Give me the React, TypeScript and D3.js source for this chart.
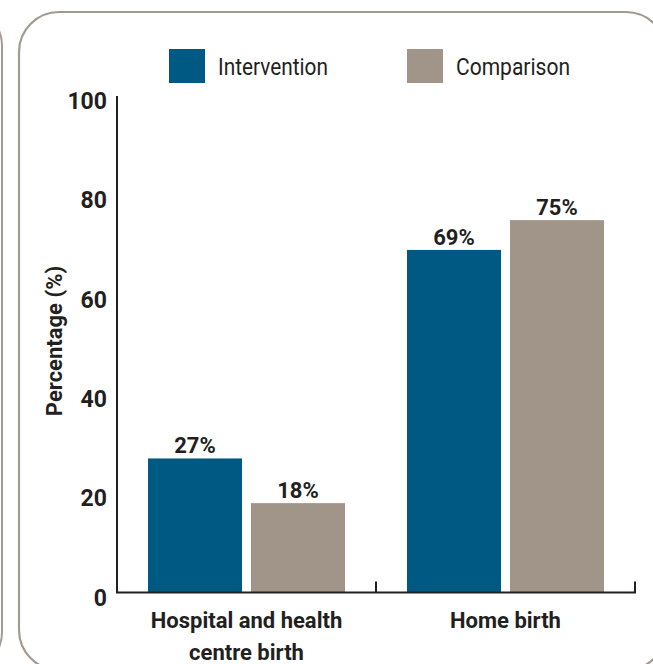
import React from "react";
import * as d3 from "d3";

const categories = ["Hospital and health centre birth", "Home birth"];
const categoryLines = [["Hospital and health", "centre birth"], ["Home birth"]];
const seriesNames = ["Intervention", "Comparison"];
const seriesColors = ["#005983", "#a19589"];
const intervention = [27, 69];
const comparison = [18, 75];
const yTicks = [0, 20, 40, 60, 80, 100];

const W = 653;
const H = 664;
const FONT = "'Liberation Sans Narrow', 'Arial Narrow', 'Roboto', sans-serif";
const INK = "#231f20";

export default function App() {
  const x0 = d3.scaleBand<string>().domain(categories).range([117, 635]).padding(0);
  const x1 = d3
    .scaleBand<string>()
    .domain(seriesNames)
    .range([0, x0.bandwidth()])
    .paddingInner(0.087)
    .paddingOuter(0.301);
  const y = d3.scaleLinear().domain([0, 100]).range([592.5, 96]);

  const values = [intervention, comparison];
  // legend placement (swatch left edge, text length)
  const legendX = [169, 407];
  const legendLen = [110, 114];

  return (
    <svg
      width={W}
      height={H}
      style={{ position: "absolute", left: 0, top: 0, background: "#fff" }}
      fontFamily={FONT}
    >
      {/* neighbour panel edge on the left */}
      <rect x={-640} y={6} width={642} height={666} rx={40} fill="none" stroke="#a39a90" strokeWidth={2} />
      {/* frame */}
      <rect x={19} y={12} width={647} height={658} rx={40} fill="none" stroke="#a39a90" strokeWidth={2.2} />

      {/* legend */}
      {seriesNames.map((s, i) => (
        <g key={s}>
          <rect x={legendX[i]} y={49} width={36} height={34} fill={seriesColors[i]} />
          <text
            x={legendX[i] + 49}
            y={75}
            fontSize={24}
            fill={INK}
            textLength={legendLen[i]}
            lengthAdjust="spacingAndGlyphs"
          >
            {s}
          </text>
        </g>
      ))}

      {/* bars */}
      {categories.map((c, ci) =>
        seriesNames.map((s, si) => {
          const v = values[si][ci];
          const bx = (x0(c) ?? 0) + (x1(s) ?? 0);
          return (
            <g key={c + s}>
              <rect x={bx} y={y(v)} width={x1.bandwidth()} height={y(0) - y(v)} fill={seriesColors[si]} />
              <text
                x={bx + x1.bandwidth() / 2}
                y={y(v) - 5}
                textAnchor="middle"
                fontSize={22}
                fontWeight="bold"
                fill={INK}
              >
                {v}%
              </text>
            </g>
          );
        })
      )}

      {/* axes */}
      <g stroke={INK} strokeWidth={2} fill="none">
        <path d={`M117,${y(100)} V${y(0)} H635 V${y(0) - 11}`} />
        {categories.slice(1).map((c) => (
          <line key={c} x1={x0(c)} x2={x0(c)} y1={y(0)} y2={y(0) - 11} />
        ))}
      </g>

      {yTicks.map((t) => (
        <text key={t} x={107} y={y(t) + 13} textAnchor="end" fontSize={23} fontWeight="bold" fill={INK}>
          {t}
        </text>
      ))}

      <text
        transform={`translate(62,${341}) rotate(-90)`}
        textAnchor="middle"
        fontSize={22}
        fontWeight="bold"
        fill={INK}
      >
        Percentage (%)
      </text>

      {categories.map((c, ci) => (
        <text key={c} textAnchor="middle" fontSize={22} fontWeight="bold" fill={INK}>
          {categoryLines[ci].map((line, li) => (
            <tspan key={li} x={(x0(c) ?? 0) + x0.bandwidth() / 2} y={628 + li * 32}>
              {line}
            </tspan>
          ))}
        </text>
      ))}
    </svg>
  );
}
